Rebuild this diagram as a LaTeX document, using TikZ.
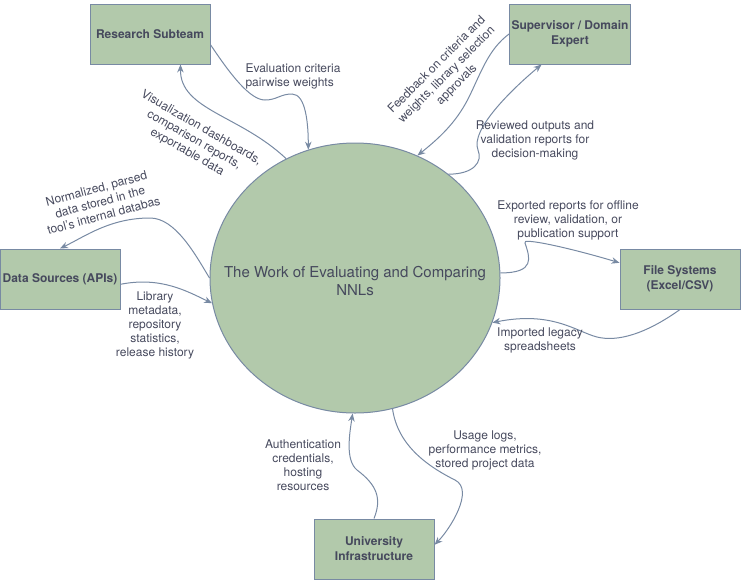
\documentclass[tikz,border=0pt]{standalone}
\usepackage{fontspec}
\setmainfont{TeX Gyre Heros}
\usetikzlibrary{shapes.geometric,arrows.meta}

\definecolor{fill1}{HTML}{B2C9AB}
\definecolor{stroke1}{HTML}{788AA3}
\definecolor{text1}{HTML}{46495D}
\tikzstyle{entity} = [draw=stroke1, fill=fill1, rectangle, text centered, align=center, minimum width=120pt, minimum height=60pt, inner sep=2pt, line width=1pt, text=text1, font=\bfseries\fontsize{12}{15}\selectfont]
\tikzstyle{process} = [draw=stroke1, fill=fill1, ellipse, minimum width=290pt, minimum height=270pt, inner sep=0pt, line width=1pt]
\tikzstyle{processtext} = [text=text1, align=center, font=\fontsize{15}{18}\selectfont]
\tikzstyle{flowtext} = [text=text1, align=center, font=\fontsize{12}{14}\selectfont]
\tikzstyle{flow} = [draw=stroke1, line width=1pt, -{Stealth[length=8pt,width=6.5pt]}]

\begin{document}
\begin{tikzpicture}[x=1pt, y=-1pt]
	\useasboundingbox (0,0) rectangle (741,581);

	\node [process] (work) at (355,278) {};
	\node [processtext] (worktitle) at (355,281) {The Work of Evaluating and Comparing\\NNLs};
	\node [entity] (research) at (150,34) {Research Subteam};
	\node [entity] (supervisor) at (570,34) {Supervisor / Domain\\Expert};
	\node [entity] (sources) at (60,279) {Data Sources (APIs)};
	\node [entity] (files) at (680,279) {File Systems\\(Excel/CSV)};
	\node [entity] (infra) at (374,549) {University\\Infrastructure};

	% Research subteam
	\draw [flow] (research.-10) .. controls +(20,30) and +(-15,0) .. (265,100) .. controls +(12,0) and +(-12,0) .. (292,94) .. controls +(14,0) and +(0,-25) .. (work.110);
	\node [flowtext, align=left, anchor=west] (criteria) at (242,76) {Evaluation criteria\\pairwise weights};
	\draw [flow] (work.120) .. controls (240,115) and (180,110) .. (research.-45);
	\node [flowtext, rotate=-30] (dashboards) at (194,140) {Visualization dashboards,\\comparison reports,\\exportable data};

	% Data sources
	\draw [flow] (work.west) .. controls +(-15,-25) and +(25,0) .. (150,218) .. controls +(-40,0) and +(25,-12) .. (sources.north);
	\node [flowtext, rotate=15] (normalized) at (100,202) {Normalized, parsed\\data stored in the\\tool's internal databas};
	\draw [flow] (sources.-5) .. controls +(40,-8) and +(-25,-12) .. (work.190);
	\node [flowtext] (metadata) at (155,325) {Library\\metadata,\\repository\\statistics,\\release history};

	% Supervisor
	\draw [flow] (supervisor.west) .. controls +(-20,15) and +(12,-25) .. (470,95) .. controls +(-12,25) and +(25,-20) .. (work.63);
	\node [flowtext, rotate=45] (feedback) at (447,75) {Feedback on criteria and\\weights, library selection\\approvals};
	\draw [flow] (work.48) .. controls +(25,0) and +(5,12) .. (478,150) .. controls +(-8,-20) and +(-30,25) .. (supervisor.-133);
	\node [flowtext] (reviewed) at (535,140) {Reviewed outputs and\\validation reports for\\decision-making};

	% File systems
	\draw [flow] (work.2) .. controls +(35,0) and +(5,15) .. (525,243) .. controls +(-5,-6) and +(-50,-15) .. (files.165);
	\node [flowtext] (exported) at (568,220) {Exported reports for offline\\review, validation, or\\publication support};
	\draw [flow] (files.south) .. controls +(-35,25) and +(20,5) .. (597,337) .. controls +(-20,-5) and +(60,-12) .. (work.-18);
	\node [flowtext] (imported) at (540,340) {Imported legacy\\spreadsheets};

	% Infrastructure
	\draw [flow] (infra.north) .. controls +(8,-20) and +(20,15) .. (357,470) .. controls +(-12,-10) and +(-3,20) .. (work.-91);
	\node [flowtext] (auth) at (303,465) {Authentication\\credentials,\\hosting\\resources};
	\draw [flow] (work.-74) .. controls +(5,35) and +(-30,-15) .. (455,480) .. controls +(20,10) and +(15,-15) .. (infra.4);
	\node [flowtext] (usage) at (485,450) {Usage logs,\\performance metrics,\\stored project data};
\end{tikzpicture}
\end{document}
